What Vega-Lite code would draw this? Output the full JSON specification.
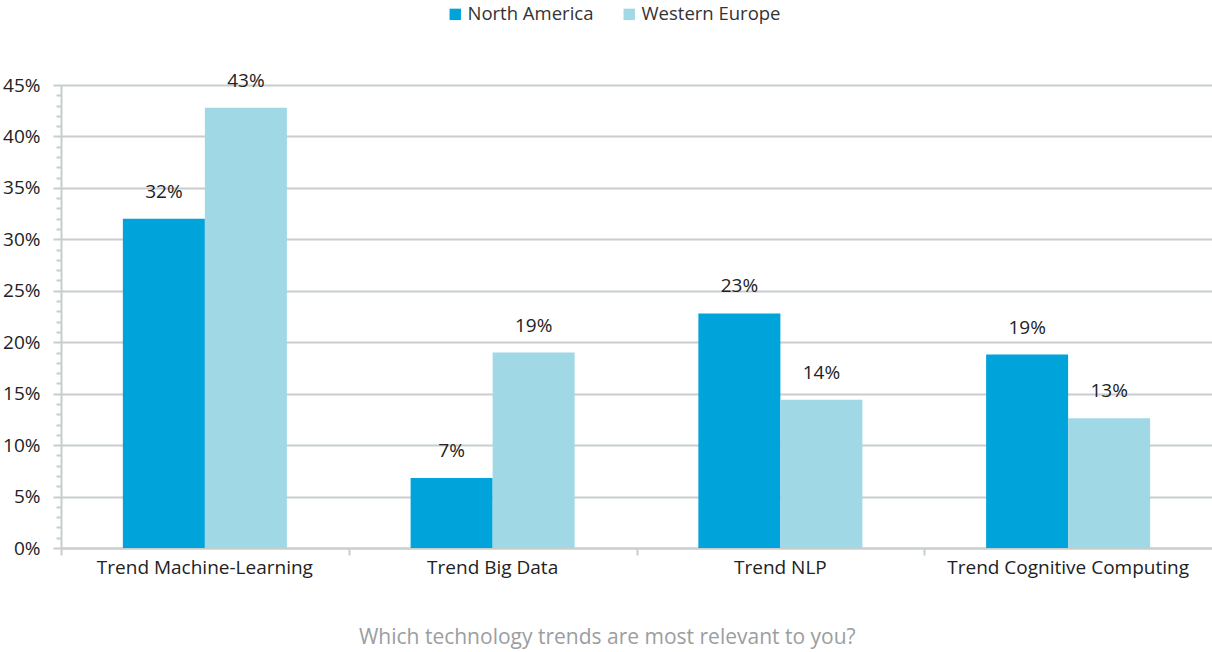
{
  "$schema": "https://vega.github.io/schema/vega-lite/v6.json",
  "width": 1151,
  "height": 463,
  "autosize": {"type": "none"},
  "padding": {"left": 61, "top": 85, "right": 0, "bottom": 104},
  "background": "white",
  "title": {
    "text": "Which technology trends are most relevant to you?",
    "orient": "bottom",
    "frame": "bounds",
    "anchor": "middle",
    "color": "#9a9ea0",
    "fontSize": 21,
    "fontWeight": "normal",
    "font": "Open Sans",
    "offset": 50
  },
  "config": {
    "view": {"stroke": null},
    "font": "Open Sans",
    "text": {"font": "Open Sans"}
  },
  "data": {
    "values": [
      {"trend": "Trend Machine-Learning", "region": "North America", "value": 0.32},
      {"trend": "Trend Machine-Learning", "region": "Western Europe", "value": 0.428},
      {"trend": "Trend Big Data", "region": "North America", "value": 0.068},
      {"trend": "Trend Big Data", "region": "Western Europe", "value": 0.19},
      {"trend": "Trend NLP", "region": "North America", "value": 0.228},
      {"trend": "Trend NLP", "region": "Western Europe", "value": 0.144},
      {"trend": "Trend Cognitive Computing", "region": "North America", "value": 0.188},
      {"trend": "Trend Cognitive Computing", "region": "Western Europe", "value": 0.126}
    ]
  },
  "encoding": {
    "x": {
      "field": "trend",
      "type": "nominal",
      "sort": null,
      "scale": {"paddingInner": 0.43, "paddingOuter": 0.215},
      "axis": {
        "title": null,
        "labelAngle": 0,
        "labelFontSize": 19,
        "labelColor": "#222222",
        "labelFont": "Open Sans",
        "labelPadding": 3,
        "labelLimit": 0,
        "bandPosition": -0.3727,
        "tickSize": 7,
        "tickWidth": 2,
        "tickColor": "#c8cdcd",
        "domainColor": "#c8cdcd",
        "domainWidth": 2,
        "grid": false
      }
    },
    "xOffset": {
      "field": "region",
      "type": "nominal",
      "scale": {"paddingInner": 0, "paddingOuter": 0}
    },
    "y": {
      "field": "value",
      "type": "quantitative",
      "scale": {"domain": [0, 0.45], "nice": false},
      "axis": {
        "title": null,
        "values": [0,0.01,0.02,0.03,0.04,0.05,0.06,0.07,0.08,0.09,0.1,0.11,0.12,0.13,0.14,0.15,0.16,0.17,0.18,0.19,0.2,0.21,0.22,0.23,0.24,0.25,0.26,0.27,0.28,0.29,0.3,0.31,0.32,0.33,0.34,0.35,0.36,0.37,0.38,0.39,0.4,0.41,0.42,0.43,0.44,0.45],
        "labelExpr": "round(datum.value*100) % 5 == 0 ? format(datum.value, '.0%') : ''",
        "labelFontSize": 19,
        "labelColor": "#222222",
        "labelFont": "Open Sans",
        "labelPadding": 13,
        "tickSize": {"expr": "round(datum.value*100) % 5 == 0 ? 8 : 5"},
        "tickWidth": 2,
        "tickColor": "#c8cdcd",
        "domainColor": "#c8cdcd",
        "domainWidth": 2,
        "grid": true,
        "gridColor": "#c8cdcd",
        "gridWidth": 2,
        "gridOpacity": {"expr": "round(datum.value*100) % 5 == 0 ? 1 : 0"}
      }
    },
    "color": {
      "field": "region",
      "type": "nominal",
      "scale": {"domain": ["North America", "Western Europe"], "range": ["#00a3da", "#a0d8e6"]},
      "legend": {
        "title": null,
        "orient": "none",
        "direction": "horizontal",
        "legendX": 385,
        "legendY": -80,
        "symbolType": "square",
        "symbolSize": 130,
        "symbolStrokeWidth": 0,
        "symbolOpacity": 1,
        "labelFontSize": 18.5,
        "labelFont": "Open Sans",
        "labelColor": "#333333",
        "labelOffset": 3,
        "columnPadding": 26,
        "padding": 0
      }
    }
  },
  "layer": [
    {"mark": {"type": "bar", "opacity": 1}},
    {
      "mark": {"type": "text", "baseline": "bottom", "dy": -17, "fontSize": 19, "color": "#222222", "font": "Open Sans"},
      "encoding": {
        "text": {"field": "value", "type": "quantitative", "format": ".0%"},
        "color": {"value": "#222222"}
      }
    }
  ]
}
